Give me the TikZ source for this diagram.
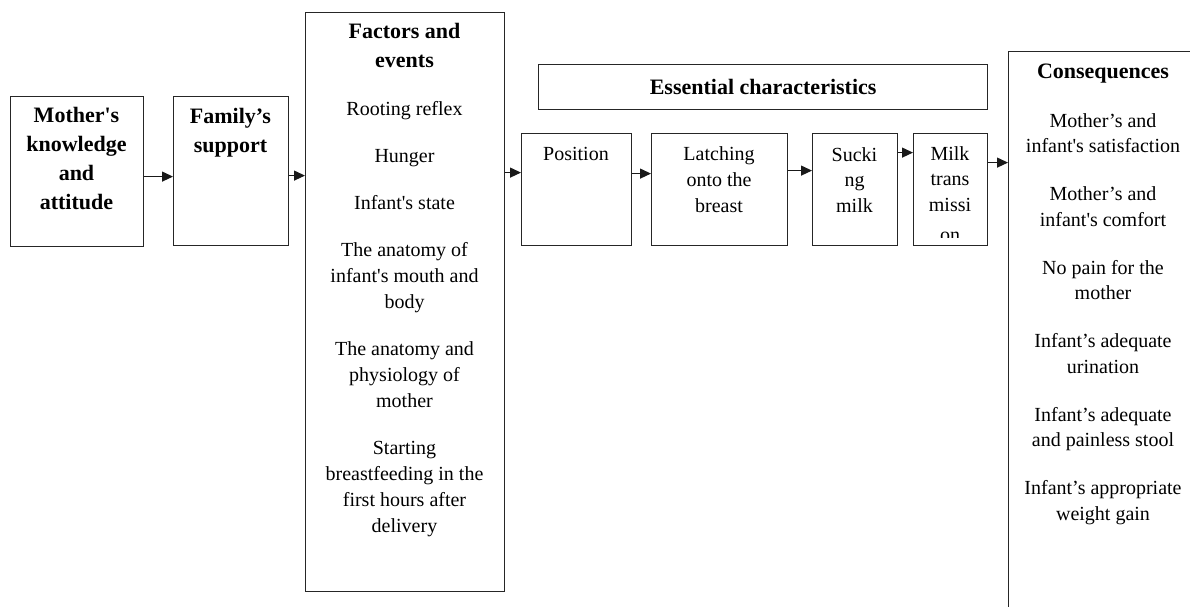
\documentclass[tikz,border=0pt]{standalone}
\usepackage{fontspec}
\setmainfont{Liberation Serif}
\usetikzlibrary{arrows.meta}
\newcommand\bodyfnt{\fontsize{20}{26}\selectfont}
\newcommand\consfnt{\fontsize{20}{25.5}\selectfont}
\newcommand\headfnt{\fontsize{22}{29}\selectfont\bfseries}
\newcommand\fl{\rule{0pt}{20pt}}
\begin{document}
\begin{tikzpicture}[x=1pt,y=-1pt,
 box/.style={draw=black!85, line width=1.2pt, inner sep=0pt, anchor=north west},
 txt/.style={inner sep=0pt, align=center, anchor=north, font=\bodyfnt},
 ctxt/.style={inner sep=0pt, align=center, anchor=north, font=\consfnt},
 hd/.style={inner sep=0pt, align=center, anchor=north, font=\headfnt},
 arr/.style={draw=black!90, line width=1.2pt, -{Triangle[length=11pt,width=10pt]}}]
\useasboundingbox (0,0) rectangle (1190,607);
\clip (0,0) rectangle (1190,607);
\fill[white] (0,0) rectangle (1190,607);

% boxes
\node[box, minimum width=133pt, minimum height=150pt] (mother) at (10,96) {};
\node[box, minimum width=115pt, minimum height=149pt] (family) at (173,96) {};
\node[box, minimum width=199pt, minimum height=579pt] (factors) at (305,12) {};
\node[box, minimum width=449pt, minimum height=45pt, font=\headfnt] (ess) at (538,64) {Essential characteristics};
\node[box, minimum width=110pt, minimum height=112pt] (position) at (521,133) {};
\node[box, minimum width=136pt, minimum height=112pt] (latching) at (651,133) {};
\node[box, minimum width=85pt, minimum height=112pt] (sucking) at (812,133) {};
\node[box, minimum width=74pt, minimum height=112pt] (milk) at (913,133) {};
\node[box, minimum width=200pt, minimum height=600pt] (cons) at (1008,51) {};

% texts (node north = first baseline - 20)
\node[hd] (mothert) at (76.5,102) {\fl Mother\textquotesingle s\\knowledge\\and\\attitude};
\node[hd] (familyt) at (230.5,103) {\fl Family’s\\support};
\node[hd] (factorsh) at (404.5,18) {\fl Factors and\\events};
\node[txt] (factorsb) at (404.5,95) {\fl Rooting reflex\\[21pt]Hunger\\[21pt]Infant\textquotesingle s state\\[21pt]The anatomy of\\infant\textquotesingle s mouth and\\body\\[21pt]The anatomy and\\physiology of\\mother\\[21pt]Starting\\breastfeeding in the\\first hours after\\delivery};
\node[txt] (positiont) at (576,140) {\fl Position};
\node[txt] (latchingt) at (719,140) {\fl Latching\\onto the\\breast};
\node[ctxt] (suckingt) at (854.5,141) {\fl Sucki\\ng\\milk};
\begin{scope}
\clip (milk.north west) rectangle ([yshift=9pt]milk.south east);
\node[ctxt] (milkt) at (950,140) {\fl Milk\\trans\\missi\\[5pt]on};
\end{scope}
\node[hd] (consh) at (1103,58) {\fl Consequences};
\node[ctxt] (consb) at (1103,107) {\fl Mother’s and\\infant\textquotesingle s satisfaction\\[22.5pt]Mother’s and\\infant\textquotesingle s comfort\\[22.5pt]No pain for the\\mother\\[22.5pt]Infant’s adequate\\urination\\[22.5pt]Infant’s adequate\\and painless stool\\[22.5pt]Infant’s appropriate\\weight gain};

% connectors
\coordinate (a1) at ([yshift=-5pt]mother.east);
\draw[arr] (a1) -- (a1 -| family.west);
\coordinate (a2) at ([yshift=-4.5pt]family.east);
\draw[arr] (a2) -- (a2 -| factors.west);
\coordinate (a3) at ([yshift=17pt]position.west);
\draw[arr] (a3 -| factors.east) -- (a3);
\coordinate (a4) at ([yshift=16pt]position.east);
\draw[arr] (a4) -- (a4 -| latching.west);
\coordinate (a5) at ([yshift=19pt]latching.east);
\draw[arr] (a5) -- (a5 -| sucking.west);
\coordinate (a6) at ([yshift=37pt]sucking.east);
\draw[arr] (a6) -- (a6 -| milk.west);
\coordinate (a7) at ([yshift=27pt]milk.east);
\draw[arr] (a7) -- (a7 -| cons.west);
\end{tikzpicture}
\end{document}
